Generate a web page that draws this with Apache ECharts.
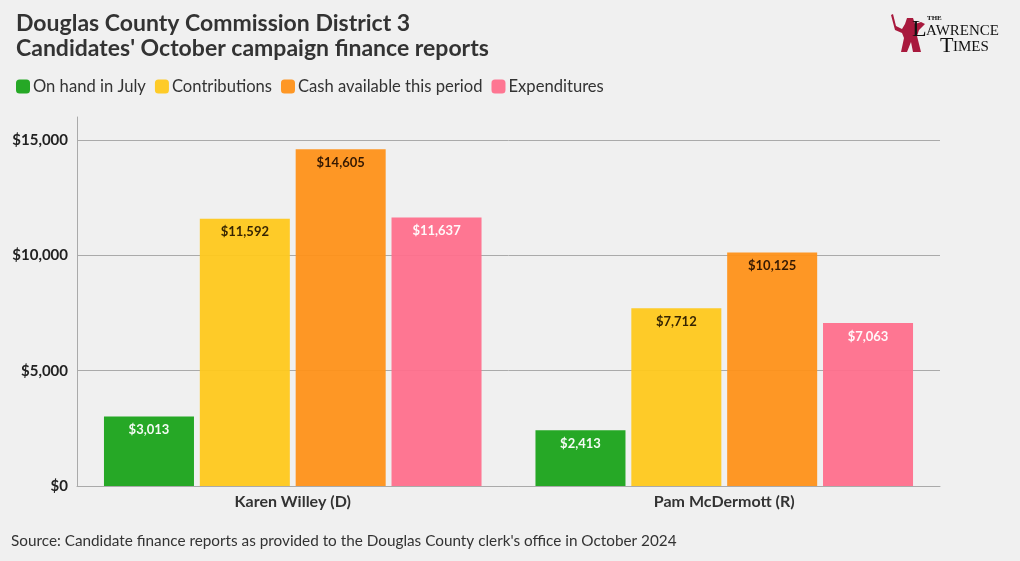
<!DOCTYPE html>
<html>
<head>
<meta charset="utf-8">
<script src="https://cdn.jsdelivr.net/npm/echarts@6/dist/echarts.min.js"></script>
<style>
html,body{margin:0;padding:0;background:#f0f0f0;}
#chart{width:1020px;height:561px;}
</style>
</head>
<body>
<div id="chart"></div>
<script>
var categories = ['Karen Willey (D)', 'Pam McDermott (R)'];
var seriesNames = ['On hand in July', 'Contributions', 'Cash available this period', 'Expenditures'];
var onHandJuly = [3013, 2413];
var contributions = [11592, 7712];
var cashAvailable = [14605, 10125];
var expenditures = [11637, 7063];
var yTicks = [0, 5000, 10000, 15000];

var FONT = 'Lato';
var colors = ['#1aa31a', '#fec81c', '#fe9119', '#fe6f8c'];
var labelColors = ['#ffffff', '#2a1a00', '#2a1200', '#ffffff'];
var values = [onHandJuly, contributions, cashAvailable, expenditures];

function fmt(v) { return '$' + v.toLocaleString('en-US'); }

var chart = echarts.init(document.getElementById('chart'));
var series = seriesNames.map(function (name, i) {
  return {
    name: name,
    type: 'bar',
    data: values[i],
    barWidth: 90,
    barGap: '6.5%',
    itemStyle: { color: colors[i], opacity: 0.95 },
    label: {
      show: true,
      position: 'insideTop',
      distance: 7,
      formatter: function (p) { return fmt(p.value); },
      color: labelColors[i],
      fontFamily: FONT,
      fontWeight: 'bold',
      fontSize: 13
    }
  };
});

chart.setOption({
  backgroundColor: '#f0f0f0',
  animation: false,
  textStyle: { fontFamily: FONT },
  title: {
    text: 'Douglas County Commission District 3\nCandidates\' October campaign finance reports',
    left: 11, top: 6,
    textStyle: { fontFamily: FONT, fontSize: 23, fontWeight: 'bold', color: '#333333', lineHeight: 25 }
  },
  legend: {
    left: 11, top: 73,
    itemWidth: 14, itemHeight: 14, itemGap: 9,
    icon: 'roundRect',
    textStyle: { fontFamily: FONT, fontSize: 16.6, color: '#333333', padding: [0, 0, 0, -2] },
    data: seriesNames
  },
  grid: { left: 77, right: 80, top: 117, bottom: 75, containLabel: false },
  xAxis: {
    type: 'category',
    data: categories,
    axisLine: { lineStyle: { color: '#aaaaaa', width: 1 } },
    axisTick: { show: false },
    axisLabel: { fontFamily: FONT, fontSize: 16, fontWeight: 'bold', color: '#333333', margin: 8 }
  },
  yAxis: {
    type: 'value',
    min: 0, max: 16000, interval: 5000,
    axisLine: { show: true, lineStyle: { color: '#aaaaaa' } },
    axisTick: { show: false },
    splitLine: { show: true, showMaxLine: false, lineStyle: { color: '#aaaaaa' } },
    axisLabel: {
      showMaxLabel: false,
      fontFamily: FONT, fontSize: 15, fontWeight: 'bold', color: '#222222', margin: 9,
      formatter: function (v) { return yTicks.indexOf(v) >= 0 ? fmt(v) : ''; }
    }
  },
  graphic: [
    { type: 'text', left: 11, top: 534,
      style: { text: "Source: Candidate finance reports as provided to the Douglas County clerk's office in October 2024",
        font: '15.3px ' + FONT, fill: '#333333' } },
    { type: 'group', left: 891, top: 14, children: [
      { type: 'polygon', shape: { points: [[3,2],[6,14],[12,17],[15,12],[17,6],[23,6],[25,12],[31,10],[35,12],[29,18],[27,24],[31,40],[23,40],[21,30],[17,40],[11,40],[14,26],[12,21],[5,18],[1,3]] },
        style: { fill: '#a8193d' } },
      { type: 'text', x: 37, y: 3, style: { text: 'THE', font: 'bold 7px "Liberation Serif"', fill: '#111' } },
      { type: 'text', x: 22, y: 6, style: { text: 'L', font: '24px "Liberation Serif"', fill: '#111' } },
      { type: 'text', x: 36, y: 12, style: { text: 'AWRENCE', font: '15px "Liberation Serif"', fill: '#111' } },
      { type: 'text', x: 50, y: 23, style: { text: 'T', font: '22px "Liberation Serif"', fill: '#111' } },
      { type: 'text', x: 63, y: 28, style: { text: 'IMES', font: '15px "Liberation Serif"', fill: '#111' } }
    ]}
  ],
  series: series
});
</script>
</body>
</html>
